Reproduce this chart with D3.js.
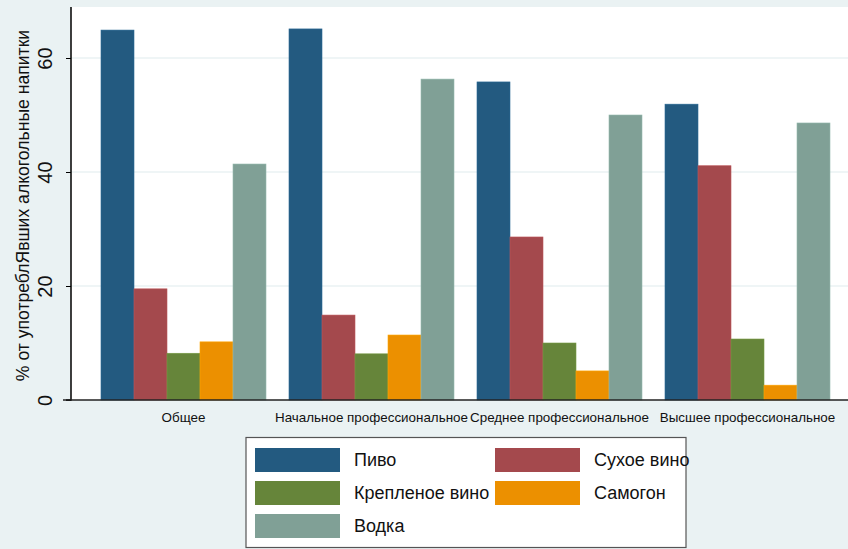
<!DOCTYPE html>
<html><head><meta charset="utf-8">
<script src="https://cdn.jsdelivr.net/npm/d3@7"></script>
<style>body{margin:0;background:#EAF2F3;}svg{display:block;font-family:"Liberation Sans",Arial,sans-serif;}</style>
</head><body>
<svg id="c" width="848" height="549"></svg>
<script>
const categories = ["Общее","Начальное профессиональное","Среднее профессиональное","Высшее профессиональное"];
const seriesNames = ["Пиво","Сухое вино","Крепленое вино","Самогон","Водка"];
const pivo    = [64.9, 65.1, 55.8, 51.9];
const sukhoe  = [19.5, 14.9, 28.6, 41.1];
const krepl   = [8.2, 8.1, 10.0, 10.7];
const samogon = [10.2, 11.4, 5.1, 2.6];
const vodka   = [41.4, 56.3, 50.0, 48.6];
const yTicks = [0, 20, 40, 60];
const yTitle = "% от употреблЯвших алкогольные напитки";
const colors = ["#235A80","#A4494D","#66853A","#EC9000","#80A096"];

const series = [pivo, sukhoe, krepl, samogon, vodka];
const svg = d3.select("#c");
svg.append("rect").attr("width",848).attr("height",549).attr("fill","#EAF2F3");

const plotTop = 7, plotBottom = 400, plotLeft = 71, plotRight = 860;
svg.append("rect").attr("x",plotLeft).attr("y",plotTop).attr("width",plotRight-plotLeft).attr("height",plotBottom-plotTop).attr("fill","#fff");

const y = d3.scaleLinear().domain([0,60]).range([plotBottom, 58]);
const x0 = d3.scaleBand().domain(categories).range([89.5, 841.5]).paddingInner(23/188).paddingOuter(11.5/188);
const x1 = d3.scaleBand().domain(seriesNames).range([0, x0.bandwidth()]);

// gridlines
svg.append("g").selectAll("line").data(yTicks.filter(d=>d>0)).join("line")
  .attr("x1",plotLeft).attr("x2",plotRight).attr("y1",d=>y(d)).attr("y2",d=>y(d))
  .attr("stroke","#EAF2F3").attr("stroke-width",1.5);

// bars
const g = svg.append("g");
categories.forEach((c,i)=>{
  series.forEach((s,j)=>{
    g.append("rect")
      .attr("x", x0(c)+x1(seriesNames[j]))
      .attr("y", y(s[i]))
      .attr("width", x1.bandwidth())
      .attr("height", y(0)-y(s[i]))
      .attr("fill", colors[j])
      .attr("stroke", d3.color(colors[j]).brighter(0.4))
      .attr("stroke-width",0.6);
  });
});

// y axis
const yAxis = svg.append("g").attr("transform",`translate(${plotLeft},0)`)
  .call(d3.axisLeft(y).tickValues(yTicks).tickSize(5).tickPadding(0).tickFormat(d3.format("d")));
yAxis.select(".domain").attr("d",`M-5,${plotBottom}H0V${plotTop}`).attr("stroke","#000").attr("stroke-width",1.5);
yAxis.selectAll(".tick line").attr("stroke","#000");
yAxis.selectAll(".tick text").attr("transform","translate(-26,0) rotate(-90)")
  .attr("text-anchor","middle").attr("x",0).attr("y",0).attr("dy","0.35em")
  .attr("font-size",20).attr("fill","#111").attr("font-family","Liberation Sans, Arial, sans-serif");

// x axis
const xAxis = svg.append("g").attr("transform",`translate(0,${plotBottom})`)
  .call(d3.axisBottom(x0).tickSize(0).tickPadding(12));
xAxis.select(".domain").attr("d",`M63,0H${plotRight}`).attr("stroke","#222").attr("stroke-width",1.5);
xAxis.selectAll(".tick text").attr("font-size",13.4).attr("fill","#111").attr("font-family","Liberation Sans, Arial, sans-serif");

// y title
svg.append("text").attr("transform",`translate(23,${(plotTop+plotBottom)/2+2}) rotate(-90)`)
  .attr("text-anchor","middle").attr("dy","0.35em").attr("font-size",17.6).attr("fill","#111").text(yTitle);

// legend
const lg = svg.append("g");
lg.append("rect").attr("x",246).attr("y",437.5).attr("width",440).attr("height",110).attr("fill","#fff").attr("stroke","#555").attr("stroke-width",1.2);
seriesNames.forEach((n,j)=>{
  const col = j%2, row = Math.floor(j/2);
  const sx = col===0 ? 255 : 495;
  const sy = 448 + row*33;
  lg.append("rect").attr("x",sx).attr("y",sy).attr("width",85).attr("height",24).attr("fill",colors[j]);
  lg.append("text").attr("x",sx+99).attr("y",sy+12).attr("dy","0.35em").attr("font-size",18).attr("fill","#111").text(n);
});
</script>
</body></html>
